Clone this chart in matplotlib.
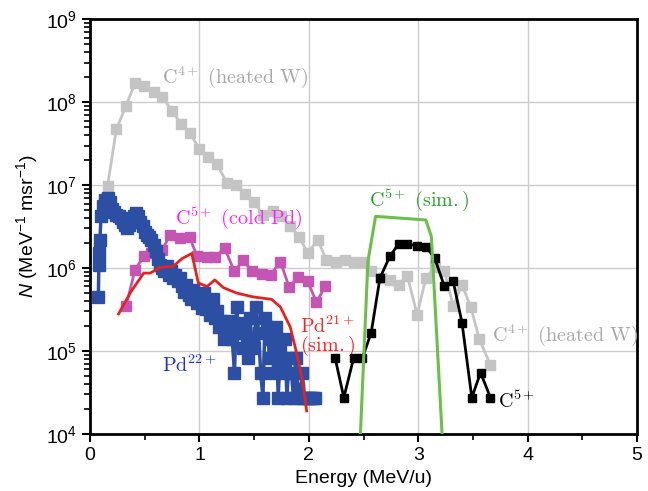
import numpy as np
import matplotlib
matplotlib.use("Agg")
import matplotlib.pyplot as plt

plt.rcParams['font.family'] = ['Liberation Sans', 'DejaVu Sans']
plt.rcParams['mathtext.fontset'] = 'custom'
plt.rcParams['mathtext.rm'] = 'Liberation Sans'
plt.rcParams['mathtext.it'] = 'Liberation Sans:italic'

# C4+ from heated W target (grey)
c4_x = [0.16, 0.24, 0.33, 0.41, 0.49, 0.58, 0.66, 0.75, 0.83, 0.91, 1.00, 1.08, 1.16,
        1.25, 1.33, 1.42, 1.50, 1.58, 1.67, 1.75, 1.83, 1.91, 1.99, 2.08, 2.16, 2.25,
        2.33, 2.41, 2.50, 2.57, 2.66, 2.74, 2.82, 2.90, 2.99, 3.07, 3.15, 3.24, 3.32,
        3.40, 3.48, 3.56, 3.66]
c4_n = [9.8e6, 4.7e7, 9.1e7, 1.68e8, 1.58e8, 1.32e8, 1.15e8, 7.9e7, 5.5e7, 4.3e7, 2.7e7,
        2.2e7, 1.8e7, 1.07e7, 1.0e7, 7.9e6, 6.3e6, 4.4e6, 4.9e6, 4.2e6, 3.2e6, 2.4e6,
        1.5e6, 2.2e6, 1.26e6, 1.2e6, 1.26e6, 1.2e6, 1.2e6, 9.1e5, 7.6e5, 7.1e5, 6.2e5,
        8.1e5, 2.75e5, 7.6e5, 1.02e6, 9.1e5, 3.5e5, 6.3e5, 3.4e5, 1.38e5, 6.8e4]

# C5+ from cold Pd target (magenta)
c5pd_x = [0.33, 0.41, 0.49, 0.56, 0.66, 0.73, 0.82, 0.91, 0.98, 1.07, 1.14, 1.23, 1.32,
          1.40, 1.48, 1.57, 1.65, 1.74, 1.82, 1.90, 1.99, 2.07, 2.15]
c5pd_n = [3.5e5, 9.5e5, 1.38e6, 1.5e6, 1.66e6, 2.5e6, 2.3e6, 2.35e6, 1.38e6, 1.35e6,
          1.35e6, 1.74e6, 9.1e5, 1.26e6, 9.1e5, 8.5e5, 8.3e5, 1.2e6, 5.9e5, 7.8e5,
          6.9e5, 3.9e5, 6.0e5]

# Pd21+ simulation (red)
pd21_x = [0.26, 0.37, 0.49, 0.55, 0.64, 0.76, 0.84, 0.93, 0.99, 1.07, 1.14, 1.22, 1.34,
          1.49, 1.66, 1.74, 1.83, 1.89, 1.94, 1.98]
pd21_n = [2.8e5, 5.1e5, 8.7e5, 8.7e5, 1.02e6, 1.05e6, 1.3e6, 1.5e6, 6.6e5, 6.0e5, 7.2e5,
          5.8e5, 5.0e5, 4.5e5, 4.2e5, 3.4e5, 1.95e5, 9.3e4, 4.5e4, 1.9e4]

# Pd22+ measured (blue)
pd22_x = [0.076, 0.08, 0.085, 0.09, 0.10, 0.12, 0.14, 0.16, 0.18, 0.20, 0.22, 0.24, 0.26,
          0.28, 0.30, 0.32, 0.34, 0.36, 0.38, 0.40, 0.42, 0.44, 0.46, 0.48, 0.50, 0.52,
          0.54, 0.56, 0.58, 0.60, 0.62, 0.64, 0.66, 0.68, 0.70, 0.72, 0.74, 0.76, 0.78,
          0.80, 0.82, 0.84, 0.86, 0.88, 0.90, 0.92, 0.94, 0.96, 0.98, 1.00, 1.02, 1.04,
          1.06, 1.08, 1.10, 1.12, 1.14, 1.16, 1.18, 1.20, 1.22, 1.24, 1.26, 1.28, 1.30,
          1.32, 1.34, 1.36, 1.38, 1.40, 1.42, 1.44, 1.46, 1.48, 1.50, 1.52, 1.54, 1.56,
          1.58, 1.60, 1.62, 1.64, 1.66, 1.68, 1.70, 1.72, 1.74, 1.76, 1.78, 1.80, 1.82,
          1.84, 1.86, 1.88, 1.90, 1.92, 1.94, 1.96, 1.98, 2.00, 2.02, 2.04, 2.06]
pd22_n = [4.5e5, 1.1e6, 1.5e6, 2.2e6, 4.2e6, 5.6e6, 6.6e6, 6.9e6, 6.3e6, 5.2e6, 4.8e6,
          4.4e6, 4.2e6, 4.0e6, 3.6e6, 3.3e6, 3.0e6, 3.3e6, 3.6e6, 4.2e6, 4.6e6, 4.2e6,
          3.6e6, 3.2e6, 2.75e6, 2.5e6, 2.4e6, 2.2e6, 1.9e6, 1.6e6, 1.3e6, 1.1e6, 1.0e6,
          9.1e5, 1.05e6, 8.3e5, 9.1e5, 7.6e5, 8.3e5, 6.9e5, 7.6e5, 6.0e5, 5.2e5, 6.3e5,
          4.8e5, 4.2e5, 5.5e5, 4.6e5, 3.8e5, 4.2e5, 3.3e5, 5.0e5, 3.2e5, 3.6e5, 2.75e5,
          4.2e5, 2.5e5, 3.0e5, 1.95e5, 2.3e5, 1.38e5, 1.95e5, 1.66e5, 2.3e5, 1.38e5,
          5.5e4, 3.4e5, 1.66e5, 1.95e5, 1.1e5, 2.2e5, 8.3e4, 2.5e5, 1.38e5, 1.1e5, 3.4e5,
          1.66e5, 5.5e4, 2.75e4, 2.5e5, 1.95e5, 8.3e4, 1.38e5, 5.5e4, 1.95e5, 2.75e4,
          1.1e5, 5.5e4, 1.38e5, 2.75e4, 8.3e4, 5.5e4, 2.75e4, 8.3e4, 3.5e4, 2.75e4,
          5.5e4, 2.75e4, 2.75e4, 2.75e4, 2.75e4, 2.75e4, 2.75e4]

# C5+ measured (black)
c5_x = [2.24, 2.32, 2.41, 2.49, 2.57, 2.65, 2.74, 2.82, 2.90, 2.99, 3.07, 3.15, 3.24,
        3.32, 3.40, 3.49, 3.57, 3.66]
c5_n = [8.3e4, 2.75e4, 8.3e4, 8.3e4, 1.66e5, 7.6e5, 1.38e6, 1.95e6, 1.95e6, 1.86e6,
        1.82e6, 1.32e6, 6.0e5, 6.9e5, 2.2e5, 2.75e4, 5.5e4, 2.75e4]

# C5+ simulation (green)
c5sim_x = [2.47, 2.54, 2.61, 3.07, 3.12, 3.22]
c5sim_n = [9.0e3, 1.2e6, 4.2e6, 3.8e6, 2.4e6, 9.0e3]

fig = plt.figure(figsize=(6.48, 4.91), dpi=100)
ax = fig.add_axes([0.139, 0.116, 0.844, 0.845])

ax.plot(c4_x, c4_n, '-s', color='#c4c4c4', ms=6.5, lw=2, zorder=2)
ax.plot(c5pd_x, c5pd_n, '-s', color='#c455b2', ms=6.5, lw=2, zorder=3)
ax.plot(pd22_x, pd22_n, '-s', color='#2d4fa3', ms=8, lw=2.5, zorder=4)
ax.plot(pd21_x, pd21_n, '-', color='#e3231f', lw=2, zorder=5)
ax.plot(c5_x, c5_n, '-s', color='black', ms=6, lw=2, zorder=4)
ax.plot(c5sim_x, c5sim_n, '-', color='#6cbf4a', lw=2.2, zorder=5)

ax.set_yscale('log')
ax.set_xlim(0, 5)
ax.set_ylim(1e4, 1e9)
ax.set_xticks([0, 1, 2, 3, 4, 5])
ax.set_xticks([0.5, 1.5, 2.5, 3.5, 4.5], minor=True)
ax.grid(True, which='major', color='#cccccc', lw=1)
ax.set_axisbelow(True)
for s in ax.spines.values():
    s.set_linewidth(2)
ax.tick_params(which='major', length=6, width=1.5, labelsize=14)
ax.tick_params(which='minor', length=4, width=1.2)

ax.set_xlabel("Energy (MeV/u)", fontsize=14)
ax.set_ylabel(r"$N$ (MeV$^{-1}$ msr$^{-1}$)", fontsize=14)

# curve labels in LaTeX style
txt = dict(fontsize=14.5, va='center', ha='left', math_fontfamily='cm')
ax.text(0.66, 2.0e8, r'$\mathrm{C^{4+}\ (heated\ W)}$', color='#a8a8a8', **txt)
ax.text(0.78, 4.0e6, r'$\mathrm{C^{5+}\ (cold\ Pd)}$', color='#ff22ff', **txt)
ax.text(2.55, 6.6e6, r'$\mathrm{C^{5+}\ (sim.)}$', color='#2ca02c', **txt)
ax.text(1.92, 1.5e5, r'$\mathrm{Pd^{21+}}$' + '\n' + r'$\mathrm{(sim.)}$',
        color='#ff2020', linespacing=0.85, **txt)
ax.text(0.66, 6.8e4, r'$\mathrm{Pd^{22+}}$', color='#1a2ee0', **txt)
ax.text(3.67, 1.55e5, r'$\mathrm{C^{4+}\ (heated\ W)}$', color='#a8a8a8', **txt)
ax.text(3.73, 2.5e4, r'$\mathrm{C^{5+}}$', color='black', **txt)

fig.savefig("out.png", dpi=100)
